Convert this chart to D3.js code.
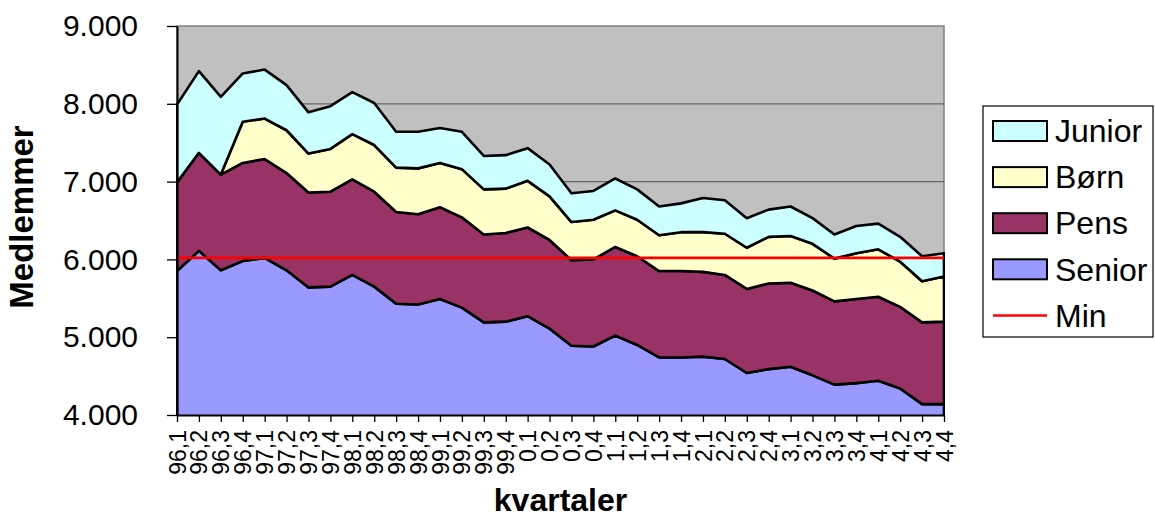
<!DOCTYPE html>
<html>
<head>
<meta charset="utf-8">
<script src="https://cdn.jsdelivr.net/npm/d3@7"></script>
<style>
  html, body { margin: 0; padding: 0; background: #fff; }
  svg { display: block; font-family: "Liberation Sans", Arial, sans-serif; }
</style>
</head>
<body>
<div id="chart"></div>
<script>
// quarters 96,1 .. 4,4
const quarters = ['96,1','96,2','96,3','96,4','97,1','97,2','97,3','97,4','98,1','98,2','98,3','98,4',
    '99,1','99,2','99,3','99,4','0,1','0,2','0,3','0,4','1,1','1,2','1,3','1,4',
    '2,1','2,2','2,3','2,4','3,1','3,2','3,3','3,4','4,1','4,2','4,3','4,4'];

const senior = [5850, 6110, 5860, 5980, 6020, 5860, 5640, 5650, 5800, 5650, 5430, 5420,
    5490, 5380, 5190, 5200, 5270, 5110, 4890, 4880, 5020, 4900, 4740, 4740,
    4750, 4720, 4540, 4590, 4620, 4510, 4390, 4410, 4440, 4340, 4140, 4140];
const pens = [1140, 1260, 1230, 1260, 1270, 1250, 1220, 1220, 1230, 1220, 1180, 1160,
    1180, 1160, 1130, 1140, 1140, 1140, 1100, 1120, 1140, 1140, 1110, 1110,
    1090, 1080, 1080, 1100, 1080, 1090, 1070, 1080, 1080, 1050, 1050, 1060];
const born = [0, 0, 0, 530, 520, 550, 500, 550, 580, 600, 570, 590,
    570, 620, 580, 570, 600, 560, 490, 510, 470, 470, 460, 500,
    510, 530, 530, 600, 600, 600, 550, 590, 610, 580, 530, 580];
const junior = [1000, 1050, 1000, 620, 630, 580, 530, 550, 540, 540, 460, 470,
    450, 480, 430, 430, 420, 410, 370, 370, 410, 390, 370, 370,
    440, 430, 380, 350, 380, 330, 310, 350, 330, 320, 320, 300];
const minValue = 6020;
const yTicks = [4000, 5000, 6000, 7000, 8000, 9000];

const series = [
    {key: 'Senior', values: senior, color: '#9999FF'},
    {key: 'Pens', values: pens, color: '#993366'},
    {key: 'Børn', values: born, color: '#FFFFCC'},
    {key: 'Junior', values: junior, color: '#CCFFFF'}
];

const width = 1155, height = 519;
const margin = {left: 177, right: 211, top: 26, bottom: 104};
const plotW = width - margin.left - margin.right;
const plotH = height - margin.top - margin.bottom;

const table = quarters.map((q, i) => {
    const row = {q};
    series.forEach(s => row[s.key] = s.values[i]);
    return row;
});

const stacked = d3.stack().keys(series.map(s => s.key))(table);

const x = d3.scalePoint().domain(quarters).range([0, plotW]).padding(0);
const y = d3.scaleLinear().domain([4000, 9000]).range([plotH, 0]);

const svg = d3.select('#chart').append('svg')
    .attr('width', width)
    .attr('height', height);

svg.append('defs').append('clipPath').attr('id', 'plotclip')
    .append('rect').attr('x', -1).attr('width', plotW + 2).attr('height', plotH);

const g = svg.append('g').attr('transform', `translate(${margin.left},${margin.top})`);

g.append('rect')
    .attr('width', plotW)
    .attr('height', plotH)
    .attr('fill', '#C0C0C0')
    .attr('stroke', '#808080')
    .attr('stroke-width', 1.5);

// gridlines
g.append('g')
    .selectAll('line')
    .data(yTicks.slice(1, -1))
    .join('line')
    .attr('x1', 0).attr('x2', plotW)
    .attr('y1', d => y(d)).attr('y2', d => y(d))
    .attr('stroke', '#666')
    .attr('stroke-width', 1.2);

const area = d3.area()
    .x(d => x(d.data.q))
    .y0(d => y(d[0]))
    .y1(d => y(d[1]));

g.append('g')
    .attr('clip-path', 'url(#plotclip)')
    .selectAll('path')
    .data(stacked)
    .join('path')
    .attr('d', area)
    .attr('fill', (d, i) => series[i].color)
    .attr('stroke', '#000')
    .attr('stroke-width', 2.6)
    .attr('stroke-linejoin', 'round');

// min line
g.append('line')
    .attr('x1', 0).attr('x2', plotW)
    .attr('y1', y(minValue)).attr('y2', y(minValue))
    .attr('stroke', '#FF0000')
    .attr('stroke-width', 2.6);

const locale = d3.formatLocale({decimal: ',', thousands: '.', grouping: [3], currency: ['', '']});
const fmt = locale.format(',');

const yAxis = g.append('g')
    .call(d3.axisLeft(y).tickValues(yTicks).tickSize(10).tickSizeOuter(0).tickPadding(29).tickFormat(fmt));
yAxis.select('.domain').attr('stroke', '#000').attr('stroke-width', 2);
yAxis.selectAll('.tick line').attr('stroke', '#000').attr('stroke-width', 1.3);
yAxis.selectAll('.tick text')
    .attr('font-size', 30)
    .attr('fill', '#000')
    .attr('font-family', '"Liberation Sans", Arial, sans-serif');

const xAxis = g.append('g')
    .attr('transform', `translate(0,${plotH})`)
    .call(d3.axisBottom(x).tickSize(7).tickSizeOuter(0));
xAxis.select('.domain').attr('stroke', '#000').attr('stroke-width', 2);
xAxis.selectAll('.tick line').attr('stroke', '#000').attr('stroke-width', 1.3);
xAxis.selectAll('.tick text')
    .attr('transform', 'rotate(-90)')
    .attr('x', -15)
    .attr('y', 0)
    .attr('dy', '0.35em')
    .attr('text-anchor', 'end')
    .attr('font-size', 23)
    .attr('fill', '#000')
    .attr('font-family', '"Liberation Sans", Arial, sans-serif');

// axis titles
svg.append('text')
    .attr('x', margin.left + plotW / 2)
    .attr('y', 511)
    .attr('text-anchor', 'middle')
    .attr('font-size', 32)
    .attr('font-weight', 'bold')
    .text('kvartaler');

svg.append('text')
    .attr('transform', 'translate(33,217) rotate(-90)')
    .attr('text-anchor', 'middle')
    .attr('font-size', 33)
    .attr('font-weight', 'bold')
    .text('Medlemmer');

// legend
const legendItems = [
    {label: 'Junior', color: '#CCFFFF', type: 'box'},
    {label: 'Børn', color: '#FFFFCC', type: 'box'},
    {label: 'Pens', color: '#993366', type: 'box'},
    {label: 'Senior', color: '#9999FF', type: 'box'},
    {label: 'Min', color: '#FF0000', type: 'line'}
];

const legend = svg.append('g').attr('transform', 'translate(983,106)');
legend.append('rect')
    .attr('width', 170)
    .attr('height', 231)
    .attr('fill', '#fff')
    .attr('stroke', '#000')
    .attr('stroke-width', 1.2);

const rows = legend.selectAll('g.row')
    .data(legendItems)
    .join('g')
    .attr('class', 'row')
    .attr('transform', (d, i) => `translate(0,${25 + i * 46.1})`);

rows.filter(d => d.type === 'box').append('rect')
    .attr('x', 10).attr('y', -10)
    .attr('width', 54).attr('height', 20)
    .attr('fill', d => d.color)
    .attr('stroke', '#000')
    .attr('stroke-width', 2);

rows.filter(d => d.type === 'line').append('line')
    .attr('x1', 10).attr('x2', 64)
    .attr('y1', 0).attr('y2', 0)
    .attr('stroke', d => d.color)
    .attr('stroke-width', 2.5);

rows.append('text')
    .attr('x', 72)
    .attr('dy', '0.35em')
    .attr('font-size', 32)
    .text(d => d.label);
</script>
</body>
</html>
